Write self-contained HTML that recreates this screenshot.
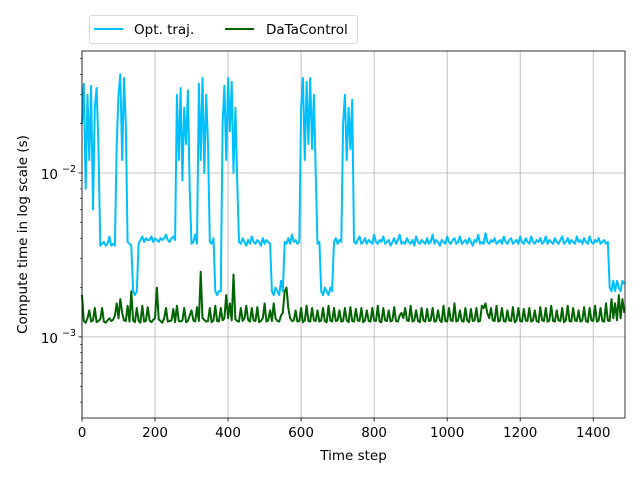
<!DOCTYPE html>
<html><head><meta charset="utf-8"><style>
html,body{margin:0;padding:0;background:#fff;width:640px;height:480px;overflow:hidden}
svg{display:block;font-family:"DejaVu Sans","Liberation Sans",sans-serif}
</style></head><body>
<svg id="chart" width="640" height="480" viewBox="0 0 640 480" xmlns="http://www.w3.org/2000/svg"></svg>
<script>
const stepSize = 5;
const xTicks = [0,200,400,600,800,1000,1200,1400];
const yMajorExp = [-3,-2];
const optTraj = [
20,35,8,30,12,34,6,25,33,15,
3.6,3.7,3.8,3.6,3.7,4.1,3.6,3.7,3.6,
15,30,40,12,38,20,
3.8,3.7,3.6,
1.9,1.8,1.9,
3.7,3.9,4.1,3.8,4.0,3.9,3.9,4.1,3.8,4.0,3.9,3.8,4.0,3.9,4.0,4.2,3.9,3.8,4.0,4.1,3.9,
30,12,33,9,25,15,32,8,
3.7,3.8,4.2,3.7,
35,12,38,10,30,15,
3.8,3.7,4.0,
1.9,1.8,1.9,1.9,
20,34,12,38,18,36,10,25,9,
3.8,3.7,4.0,3.8,3.6,3.9,3.7,4.1,3.8,3.7,3.9,3.8,3.6,4.0,3.7,3.9,3.8,3.7,
1.9,1.8,2.0,1.9,1.8,2.2,1.9,
3.8,3.7,4.0,3.7,4.2,3.8,3.9,3.7,3.8,
25,38,12,36,15,38,14,30,10,
3.7,3.8,
1.9,1.8,2.0,1.9,1.8,2.0,1.9,
3.8,4.0,3.7,3.9,3.8,
20,30,12,25,14,28,
3.8,3.7,3.9,4.1,3.7,3.8,4.0,3.7,3.9,3.8,
3.7,4.2,3.8,3.7,3.9,3.8,4.1,3.7,3.8,3.9,
3.6,3.8,4.0,3.7,3.9,4.2,3.7,3.8,3.7,4.0,
3.8,3.7,3.9,3.6,4.1,3.8,3.7,3.9,3.8,3.7,
4.0,3.7,3.8,4.2,3.7,3.9,3.8,3.6,3.9,3.8,
3.7,4.1,3.8,3.7,3.9,4.0,3.7,3.8,4.1,3.7,
3.8,3.9,3.7,4.0,3.8,3.6,3.9,3.8,4.2,3.7,
3.8,3.7,4.3,3.8,3.7,3.9,3.8,4.0,3.7,3.8,
3.9,3.7,4.1,3.8,3.7,3.9,4.0,3.7,3.8,3.9,
3.7,4.1,3.8,3.7,4.0,3.8,3.7,4.1,3.8,3.7,
3.9,3.8,4.0,3.7,3.8,4.1,3.7,3.9,3.8,3.7,
4.0,3.8,3.7,3.9,4.1,3.7,3.8,4.0,3.7,3.9,
3.8,3.7,4.1,3.8,3.9,3.7,4.0,3.8,3.7,4.1,
3.8,3.7,3.9,3.8,4.0,3.7,3.8,3.9,3.7,3.8,
2.0,1.9,2.2,1.9,2.2,2.0,1.9,2.2,2.1
];
const dataControl = [
1.8,1.25,1.22,1.3,1.45,1.24,1.26,1.5,1.23,1.25,
1.28,1.5,1.24,1.22,1.26,1.3,1.25,1.27,1.35,1.6,
1.3,1.7,1.4,1.26,1.25,1.55,1.24,1.9,1.26,1.23,
1.5,1.25,1.22,1.55,1.24,1.25,1.52,1.26,1.23,1.27,
1.3,2.0,1.28,1.25,1.22,1.3,1.5,1.24,1.25,1.26,
1.48,1.23,1.55,1.25,1.24,1.26,1.5,1.23,1.25,1.35,
1.45,1.26,1.24,1.52,1.25,2.5,1.3,1.27,1.24,1.25,
1.5,1.23,1.26,1.55,1.25,1.24,1.5,1.26,1.3,1.8,
1.3,1.6,1.26,2.4,1.28,1.25,1.24,1.5,1.25,1.3,
1.55,1.27,1.24,1.5,1.26,1.25,1.52,1.23,1.25,1.3,
1.6,1.24,1.26,1.45,1.25,1.6,1.3,1.25,1.24,1.35,
1.4,1.9,2.0,1.5,1.3,1.25,1.26,1.45,1.24,1.25,
1.5,1.23,1.26,1.55,1.25,1.24,1.5,1.26,1.25,1.45,
1.24,1.26,1.5,1.25,1.23,1.55,1.26,1.24,1.5,1.25,
1.26,1.45,1.24,1.25,1.5,1.26,1.23,1.52,1.25,1.24,
1.48,1.26,1.25,1.5,1.23,1.26,1.45,1.25,1.24,1.5,
1.26,1.25,1.55,1.24,1.23,1.5,1.26,1.25,1.45,1.24,
1.26,1.52,1.25,1.24,1.35,1.4,1.3,1.5,1.26,1.25,
1.55,1.24,1.26,1.45,1.25,1.23,1.5,1.26,1.24,1.48,
1.25,1.26,1.5,1.24,1.25,1.45,1.26,1.23,1.55,1.25,
1.24,1.5,1.26,1.25,1.6,1.24,1.26,1.45,1.25,1.24,
1.5,1.26,1.23,1.48,1.25,1.26,1.5,1.24,1.25,1.55,
1.5,1.6,1.4,1.3,1.5,1.26,1.25,1.55,1.24,1.26,
1.5,1.25,1.24,1.45,1.26,1.25,1.52,1.23,1.26,1.5,
1.25,1.24,1.48,1.26,1.25,1.5,1.24,1.26,1.45,1.25,
1.23,1.52,1.26,1.25,1.5,1.24,1.26,1.55,1.25,1.24,
1.45,1.26,1.25,1.5,1.23,1.26,1.55,1.25,1.24,1.5,
1.26,1.25,1.45,1.24,1.26,1.52,1.25,1.23,1.5,1.26,
1.25,1.55,1.24,1.26,1.5,1.25,1.24,1.6,1.26,1.25,
1.7,1.3,1.6,1.26,1.8,1.3,1.7,1.4
];
const NS="http://www.w3.org/2000/svg";
const svg=document.getElementById('chart');
const L=82,R=625,T=51,B=418,xMax=1487;
const yTop=Math.log10(0.0555), yBot=Math.log10(0.00032);
function xs(v){return L+(v/xMax)*(R-L);}
function ys(v){return T+(yTop-Math.log10(v))/(yTop-yBot)*(B-T);}
function mk(tag,attrs,parent){const e=document.createElementNS(NS,tag);for(const k in attrs)e.setAttribute(k,attrs[k]);(parent||svg).appendChild(e);return e;}
const grid=mk('g',{});


xTicks.forEach(t=>{mk('line',{x1:xs(t),x2:xs(t),y1:T,y2:B,stroke:'#b0b0b0','stroke-width':0.8},grid);});
yMajorExp.forEach(e=>{mk('line',{x1:L,x2:R,y1:ys(Math.pow(10,e)),y2:ys(Math.pow(10,e)),stroke:'#b0b0b0','stroke-width':0.8},grid);});
function series(vals,color,name){
  const pts=vals.map((v,i)=>xs(i*stepSize).toFixed(1)+','+ys(v/1000).toFixed(1)).join(' ');
  const p=mk('polyline',{points:pts,fill:'none',stroke:color,'stroke-width':2,'stroke-linejoin':'round'});
  
  
}
series(optTraj,'#00bfff','opt-traj-line');
series(dataControl,'#006400','datacontrol-line');
const fr=mk('rect',{x:L,y:T,width:R-L,height:B-T,fill:'none',stroke:'#000','stroke-width':0.8});


xTicks.forEach(t=>{
  mk('line',{x1:xs(t),x2:xs(t),y1:B,y2:B+3.5,stroke:'#000','stroke-width':0.8});
  const tx=mk('text',{x:xs(t),y:B+19,'font-size':13.5,'text-anchor':'middle',fill:'#000'});tx.textContent=t;
  
  
});
yMajorExp.forEach(e=>{
  const y=ys(Math.pow(10,e));
  mk('line',{x1:L-3.5,x2:L,y1:y,y2:y,stroke:'#000','stroke-width':0.8});
  const tx=mk('text',{x:L-24,y:y+6,'font-size':13.5,'text-anchor':'end',fill:'#000'});tx.textContent='10';
  
  
  const sup=mk('text',{x:L-6,y:y-1,'font-size':9.5,'text-anchor':'end',fill:'#000'});sup.textContent='\u2212'+(-e);
});
for(let e=-4;e<=-2;e++){for(let m=2;m<=9;m++){const v=m*Math.pow(10,e);const y=ys(v);if(y>T&&y<B)mk('line',{x1:L-2,x2:L,y1:y,y2:y,stroke:'#000','stroke-width':0.6});}}
const xl=mk('text',{x:(L+R)/2,y:460,'font-size':13.5,'text-anchor':'middle'});xl.textContent='Time step';


const yl=mk('text',{x:0,y:0,'font-size':13.5,'text-anchor':'middle',transform:'translate(27,'+((T+B)/2)+') rotate(-90)'});yl.textContent='Compute time in log scale (s)';


const lg=mk('g',{});


mk('rect',{x:89.5,y:15.5,width:268,height:28,rx:2,fill:'#fff',stroke:'#d0d0d0','stroke-width':0.8},lg);
mk('line',{x1:94,x2:123,y1:29,y2:29,stroke:'#00bfff','stroke-width':2},lg);
const t1=mk('text',{x:134,y:34,'font-size':13.5},lg);t1.textContent='Opt. traj.';


mk('line',{x1:225,x2:254,y1:29,y2:29,stroke:'#006400','stroke-width':2},lg);
const t2=mk('text',{x:266,y:34,'font-size':13.5},lg);t2.textContent='DaTaControl';


</script>
</body></html>
